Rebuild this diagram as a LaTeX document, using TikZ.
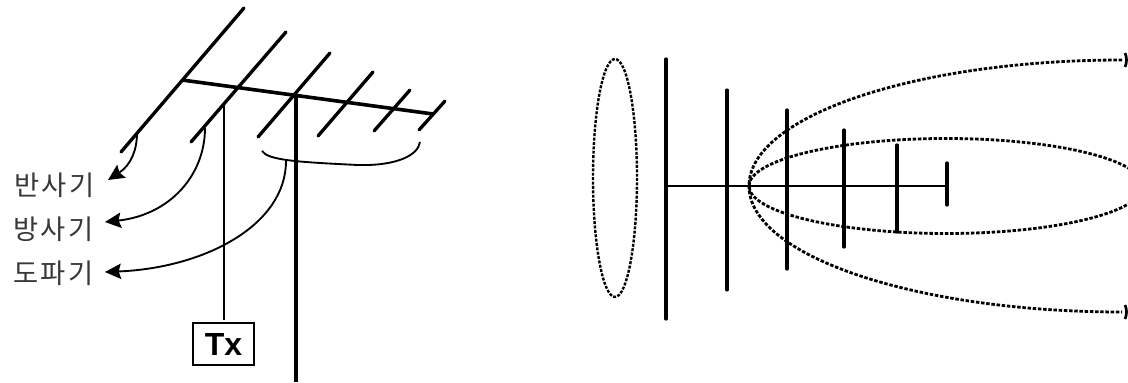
\documentclass[tikz,border=0pt]{standalone}
\usepackage{fontspec}
\newfontfamily\krfont[LetterSpace=10]{Noto Sans CJK KR}
\setsansfont{Liberation Sans}
\usetikzlibrary{arrows.meta}
\tikzset{
  x=0.75pt,y=-0.75pt,
  thickel/.style={line width=2.5pt,line cap=round},
  thinel/.style={line width=1.6pt},
  curve/.style={line width=1.4pt},
  pointer/.style={curve,-{Stealth[length=12pt,width=11.5pt,inset=1.8pt]}},
  lobe/.style={line width=2.1pt,dash pattern=on 2.6pt off 1.3pt},
  lab/.style={font=\krfont\fontsize{20.5}{21}\selectfont,anchor=center,text=black!78},
  polarline/.style={line cap=round},
}
\begin{document}
\begin{tikzpicture}
\useasboundingbox[fill=white] (0,0) rectangle (1128,382);
\begin{scope}
\clip (0,0) rectangle (1128,382);
% Left: antenna elements
\coordinate (e1a) at (244,8);   \coordinate (e1b) at (121,152);
\coordinate (e2a) at (286,32);  \coordinate (e2b) at (191,142);
\coordinate (e3a) at (330,53);  \coordinate (e3b) at (258,137);
\coordinate (e4a) at (373,72);  \coordinate (e4b) at (318,136);
\coordinate (e5a) at (410,90);  \coordinate (e5b) at (374,131);
\coordinate (e6a) at (445,101); \coordinate (e6b) at (419,130);
\coordinate (boomA) at (182,80); \coordinate (boomB) at (433,114);
\foreach \i in {1,...,6} \draw[thickel] (e\i a) -- (e\i b);
\draw[line width=2.7pt] (boomA) -- (boomB);
% Tx
\node[draw,line width=1.3pt,minimum width=45.5pt,minimum height=31pt,inner sep=0pt,font=\sffamily\bfseries\fontsize{24}{24}\selectfont] (tx) at (223.5,344) {Tx};
\coordinate (feed) at (224,105);
\draw[thinel] (feed) -- (224,320);
\coordinate (mastT) at (296,95); \coordinate (mastB) at (296,382);
\draw[line width=2.5pt] (mastT) -- (mastB);
% Labels
\node[lab] (l1) at (54.5,185) {반사기};
\node[lab] (l2) at (53.5,229) {방사기};
\node[lab] (l3) at (53.5,273) {도파기};
% Pointers
\coordinate (p1s) at (137,133); \coordinate (p1e) at (108,180);
\coordinate (p2s) at (205,128); \coordinate (p2e) at (105,222);
\coordinate (p3s) at (286,161); \coordinate (p3e) at (105,272);
\draw[pointer] (p1s) .. controls (137,150) and (131,165) .. (p1e);
\draw[pointer] (p2s) .. controls (205,175) and (170,215) .. (p2e);
\draw[pointer] (p3s) .. controls (286,225) and (205,268) .. (p3e);
% Brace
\coordinate (b1) at (262,151); \coordinate (b2) at (420,142);
\draw[curve] (b1) .. controls (268,160) and (295,162) .. (358,165) .. controls (395,166) and (418,156) .. (b2);
% Right: polar diagram
\foreach \x/\t/\b/\w in {666/59/319/2.4, 727/90/290/2.3, 787/110/269/2.4, 844/130/247/2.4, 897/145/232/2.5, 947/163/205/2.4}
  \draw[polarline,line width=\w pt] (\x,\t) -- (\x,\b);
\coordinate (rb1) at (666,186); \coordinate (rb2) at (947,186);
\draw[line width=1.5pt] (rb1) -- (rb2);
\draw[lobe,line width=1.8pt,dash pattern=on 2.2pt off 1.1pt] (615,178) ellipse [x radius=22,y radius=119];
\draw[lobe] (946,186) ellipse [x radius=197,y radius=47.5];
\draw[lobe] (1122,60) .. controls (916,60) and (749,116) .. (749,186) .. controls (749,256) and (916,312) .. (1122,312);
\draw[line width=2pt] (1125,53) .. controls (1127,57) and (1127,63) .. (1125,67);
\draw[line width=2pt] (1125,305) .. controls (1127,309) and (1127,315) .. (1125,319);
\end{scope}
\end{tikzpicture}
\end{document}
